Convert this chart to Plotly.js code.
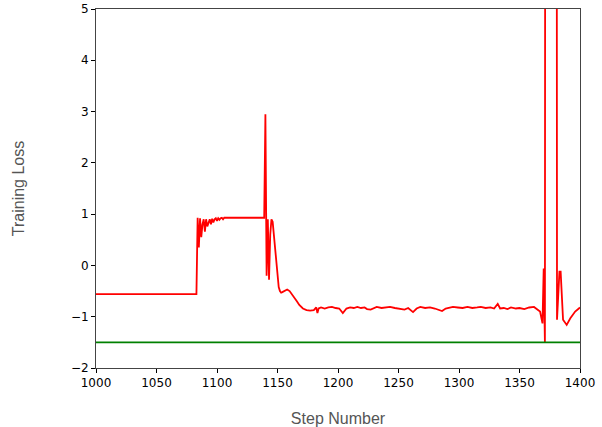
<!DOCTYPE html>
<html>
<head>
<meta charset="utf-8">
<script src="https://cdn.plot.ly/plotly-3.0.1.min.js"></script>
<style>html,body{margin:0;padding:0;background:#fff;}#chart{width:602px;height:427px;}</style>
</head>
<body>
<div id="chart"></div>
<script>
// Training loss (step, loss)
const steps = [
  1000, 1083, 1084, 1085, 1086, 1087, 1088, 1089, 1090, 1091, 1092, 1093, 1094, 1095,
  1096, 1097, 1098, 1099, 1100, 1101, 1102, 1103, 1104, 1105, 1106, 1108, 1110, 1139,
  1140, 1141, 1142, 1143, 1144, 1145, 1146, 1147, 1148, 1149, 1150, 1151, 1152, 1153,
  1154, 1156, 1158, 1160, 1162, 1164, 1166, 1168, 1171, 1174, 1177, 1180, 1182, 1183,
  1184, 1186, 1189, 1192, 1195, 1198, 1201, 1204, 1207, 1210, 1213, 1216, 1219, 1222,
  1224, 1227, 1230, 1232, 1236, 1240, 1243, 1247, 1251, 1255, 1258, 1262, 1265, 1268,
  1272, 1276, 1280, 1283, 1286, 1289, 1292, 1295, 1299, 1303, 1307, 1311, 1315, 1318,
  1322, 1326, 1329, 1332, 1334, 1337, 1340, 1343, 1347, 1350, 1354, 1358, 1362, 1365,
  1367, 1369, 1370, 1371, 1372, 1376, 1380, 1381, 1383, 1384, 1386, 1389, 1392, 1396,
  1400
];
const loss = [
  -0.56, -0.56, 0.93, 0.35, 0.92, 0.55, 0.80, 0.90, 0.66, 0.90, 0.76, 0.86, 0.90, 0.80,
  0.91, 0.84, 0.90, 0.92, 0.87, 0.92, 0.89, 0.92, 0.93, 0.90, 0.93, 0.93, 0.93, 0.93,
  2.95, -0.20, 0.90, -0.28, 0.60, 0.90, 0.85, 0.60, 0.30, 0.00, -0.25, -0.42, -0.50, -0.53,
  -0.52, -0.49, -0.47, -0.50, -0.56, -0.62, -0.70, -0.77, -0.84, -0.87, -0.88, -0.87, -0.82, -0.93,
  -0.84, -0.82, -0.84, -0.82, -0.81, -0.83, -0.84, -0.93, -0.84, -0.82, -0.83, -0.81, -0.83, -0.82,
  -0.85, -0.86, -0.83, -0.81, -0.83, -0.82, -0.81, -0.83, -0.84, -0.86, -0.83, -0.91, -0.84, -0.81,
  -0.83, -0.82, -0.84, -0.86, -0.89, -0.84, -0.83, -0.81, -0.82, -0.83, -0.81, -0.83, -0.82, -0.81,
  -0.83, -0.82, -0.84, -0.75, -0.84, -0.83, -0.85, -0.82, -0.84, -0.83, -0.85, -0.82, -0.81, -0.86,
  -0.90, -1.13, -0.06, -1.50, 40, 60, 40, -1.06, -0.12, -0.12, -1.06, -1.16, -1.03, -0.90,
  -0.82
];
// Target / reference level
const targetSteps = [1000, 1400];
const targetLoss = [-1.5, -1.5];

const xTicks = [1000, 1050, 1100, 1150, 1200, 1250, 1300, 1350, 1400];
const yTicks = [-2, -1, 0, 1, 2, 3, 4, 5];

const tickFont = {family: 'DejaVu Sans', size: 12, color: '#000'};
const titleFont = {family: 'Liberation Sans, Arial, sans-serif', size: 16, color: '#555'};

const traces = [
  {x: steps, y: loss, type: 'scatter', mode: 'lines', line: {color: '#ff0000', width: 1.8}, hoverinfo: 'skip'},
  {x: targetSteps, y: targetLoss, type: 'scatter', mode: 'lines', line: {color: '#008000', width: 1.8}, hoverinfo: 'skip'}
];

const layout = {
  width: 602, height: 427,
  margin: {l: 96, r: 22, t: 9, b: 59},
  paper_bgcolor: '#fff', plot_bgcolor: '#fff',
  showlegend: false,
  xaxis: {
    range: [1000, 1400], tickvals: xTicks, ticks: 'outside', ticklen: 4, tickcolor: '#000',
    showline: true, linecolor: '#444', linewidth: 1, mirror: true, showgrid: false, zeroline: false,
    tickfont: tickFont,
    title: {text: 'Step Number', font: titleFont, standoff: 25}
  },
  yaxis: {
    range: [-2, 5], tickvals: yTicks, ticks: 'outside', ticklen: 4, tickcolor: '#000',
    showline: true, linecolor: '#444', linewidth: 1, mirror: true, showgrid: false, zeroline: false,
    tickfont: tickFont,
    title: {text: 'Training Loss', font: titleFont, standoff: 42}
  }
};

Plotly.newPlot('chart', traces, layout, {staticPlot: true, displayModeBar: false});
</script>
</body>
</html>
